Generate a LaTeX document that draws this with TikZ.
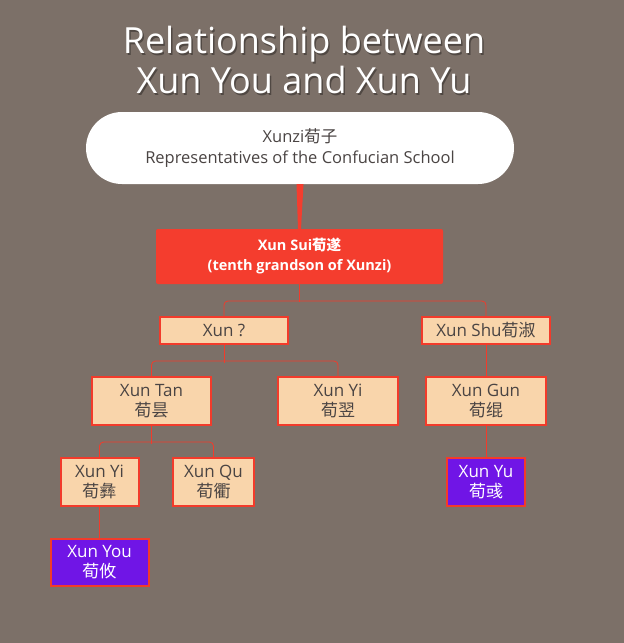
\documentclass[tikz,border=0pt]{standalone}
\usepackage{fontspec}
\setmainfont{Open Sans}
\newfontfamily\cjk{Noto Sans CJK SC}
\definecolor{bgbrown}{HTML}{7C7068}
\definecolor{linkred}{HTML}{F23B2B}
\definecolor{boxpeach}{HTML}{F9D5AB}
\definecolor{suired}{HTML}{F43D2E}
\definecolor{herovio}{HTML}{7015E6}
\definecolor{textgray}{HTML}{4A4443}
\begin{document}
\begin{tikzpicture}[x=1pt,y=-1pt,
  every node/.style={font=\fontsize{17}{20}\selectfont,align=center},
  person/.style={draw=linkred,line width=2pt,fill=boxpeach,text=textgray,inner sep=0pt},
  hero/.style={person,fill=herovio,text=white},
  link/.style={draw=linkred,line width=0.8pt,rounded corners=4pt}]
  \fill[bgbrown] (0,0) rectangle (624,643);
  \useasboundingbox (0,0) rectangle (624,643);
  % title
  \node[text=black,opacity=0.35,font=\fontsize{36}{40}\selectfont] (titleshadow) at (305.5,61.5) {Relationship between\\Xun You and Xun Yu};
  \node[text=white,font=\fontsize{36}{40}\selectfont] (title) at (304,60) {Relationship between\\Xun You and Xun Yu};
  % root and Xun Sui
  \node[fill=white,rounded corners=36pt,minimum width=428pt,minimum height=72pt,inner sep=0pt,text=textgray,font=\fontsize{16.5}{21}\selectfont] (xunzi) at (300,148) {Xunzi{\cjk 荀子}\\Representatives of the Confucian School};
  \node[fill=suired,rounded corners=2pt,minimum width=287pt,minimum height=55pt,inner sep=0pt,text=white,font=\fontsize{14.5}{20}\selectfont\bfseries] (sui) at (299.5,256.5) {Xun Sui{\cjk 荀遂}\\(tenth grandson of Xunzi)};
  \fill[suired] ([xshift=-3.5pt]xunzi.south) -- ([xshift=3.5pt]xunzi.south) -- ([xshift=1.5pt]sui.north) -- ([xshift=-1.5pt]sui.north) -- cycle;
  % generations
  \node[person,minimum width=128pt,minimum height=27pt] (xq) at (224,330.5) {Xun ?};
  \node[person,minimum width=128pt,minimum height=27pt] (xs) at (486,330.5) {Xun Shu{\cjk 荀淑}};
  \node[person,minimum width=119pt,minimum height=48pt] (xt) at (151.5,401) {Xun Tan\\{\cjk 荀昙}};
  \node[person,minimum width=120pt,minimum height=48pt] (xyi) at (338,401) {Xun Yi\\{\cjk 荀翌}};
  \node[person,minimum width=120pt,minimum height=48pt] (xg) at (486,401) {Xun Gun\\{\cjk 荀绲}};
  \node[person,minimum width=78pt,minimum height=48pt] (xyb) at (99.5,482) {Xun Yi\\{\cjk 荀彝}};
  \node[person,minimum width=81pt,minimum height=48pt] (xqu) at (213.5,482) {Xun Qu\\{\cjk 荀衢}};
  \node[hero,minimum width=98pt,minimum height=47pt] (xyou) at (99.5,562.5) {Xun You\\{\cjk 荀攸}};
  \node[hero,minimum width=78pt,minimum height=48pt] (xyu) at (486,482) {Xun Yu\\{\cjk 荀彧}};
  % connectors
  \draw[link] (sui.south) -- ++(0,18);
  \draw[link] (xq.north) -- ++(0,-15) -| (xs.north);
  \draw[link] (xq.south) -- ++(0,18);
  \draw[link] (xt.north) -- ++(0,-15) -| (xyi.north);
  \draw[link] (xs.south) -- (xg.north);
  \draw[link] (xt.south) -- ++(0,18);
  \draw[link] (xyb.north) -- ++(0,-15) -| (xqu.north);
  \draw[link] (xyb.south) -- (xyou.north);
  \draw[link] (xg.south) -- (xyu.north);
\end{tikzpicture}
\end{document}
